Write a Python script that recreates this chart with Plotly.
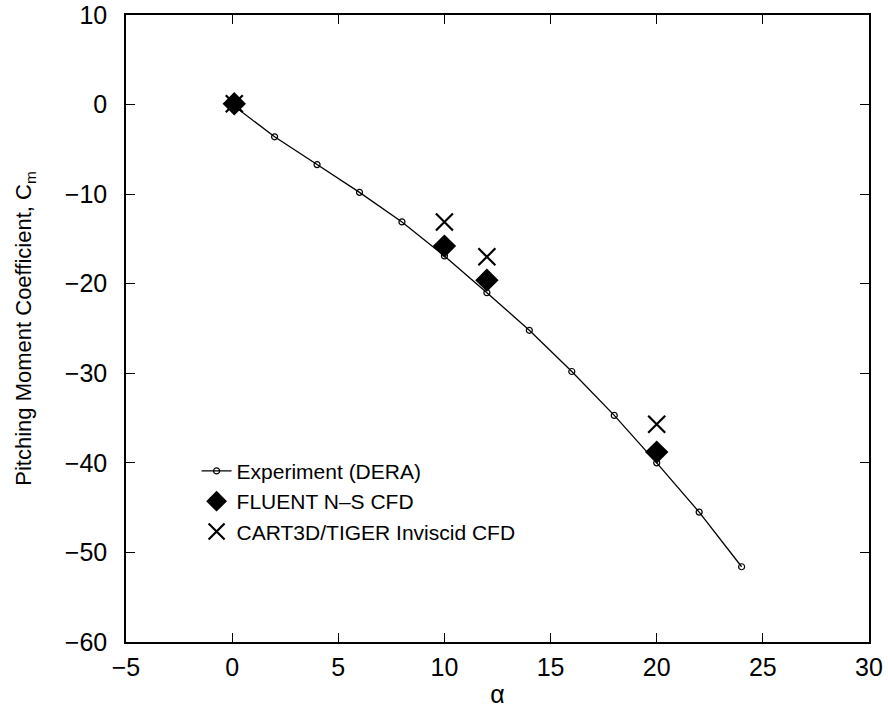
import plotly.graph_objects as go

exp_alpha = [0, 2, 4, 6, 8, 10, 12, 14, 16, 18, 20, 22, 24]
exp_cm = [0.0, -3.6, -6.7, -9.8, -13.1, -16.9, -21.0, -25.2, -29.8, -34.7, -40.0, -45.5, -51.6]

fluent_alpha = [0.1, 10, 12, 20]
fluent_cm = [0.1, -15.8, -19.6, -38.8]

cart_alpha = [0.1, 10, 12, 20]
cart_cm = [0.1, -13.1, -17.0, -35.7]

x_ticks = [-5, 0, 5, 10, 15, 20, 25, 30]
y_ticks = [10, 0, -10, -20, -30, -40, -50, -60]

font = "Liberation Sans, Arial, Helvetica, sans-serif"

fig = go.Figure()
fig.add_trace(go.Scatter(
    x=exp_alpha, y=exp_cm, mode="lines+markers", name="Experiment (DERA)",
    line=dict(color="black", width=1.3),
    marker=dict(symbol="circle-open", size=6, color="black", line=dict(width=1.2)),
))
fig.add_trace(go.Scatter(
    x=fluent_alpha, y=fluent_cm, mode="markers", name="FLUENT N\u2013S CFD",
    marker=dict(symbol="diamond", size=18, color="black"),
))
fig.add_trace(go.Scatter(
    x=cart_alpha, y=cart_cm, mode="markers", name="CART3D/TIGER Inviscid CFD",
    marker=dict(symbol="x-thin-open", size=17, color="black", line=dict(width=2.2, color="black")),
))

axis_common = dict(
    showgrid=False, zeroline=False, showline=True, linecolor="black", linewidth=1.5,
    mirror="ticks", ticks="inside", ticklen=9, tickwidth=1.3, tickcolor="black",
    tickfont=dict(family=font, size=25, color="black"),
    ticklabeloverflow="allow", automargin=False,
)

def fmt(v):
    return str(v).replace("-", "\u2212")

fig.update_layout(
    width=888, height=717,
    margin=dict(l=126, r=19, t=15, b=75),
    paper_bgcolor="white", plot_bgcolor="white",
    font=dict(family=font, color="black"),
    xaxis=dict(range=[-5, 30], tickvals=x_ticks, ticktext=[fmt(v) for v in x_ticks],
               ticklabelstandoff=2,
               title=dict(text="\u03b1", font=dict(family=font, size=25), standoff=6), **axis_common),
    yaxis=dict(range=[-60, 10], tickvals=y_ticks, ticktext=[fmt(v) for v in y_ticks],
               ticklabelstandoff=12,
               title=dict(text="Pitching Moment Coefficient, C<sub>m</sub>", font=dict(family=font, size=22), standoff=27),
               **axis_common),
    legend=dict(x=0.095, y=0.305, xanchor="left", yanchor="top", bgcolor="rgba(0,0,0,0)",
                font=dict(family=font, size=21, color="black"), tracegroupgap=0, itemwidth=30),
    showlegend=True,
)

fig.write_html("out.html")
